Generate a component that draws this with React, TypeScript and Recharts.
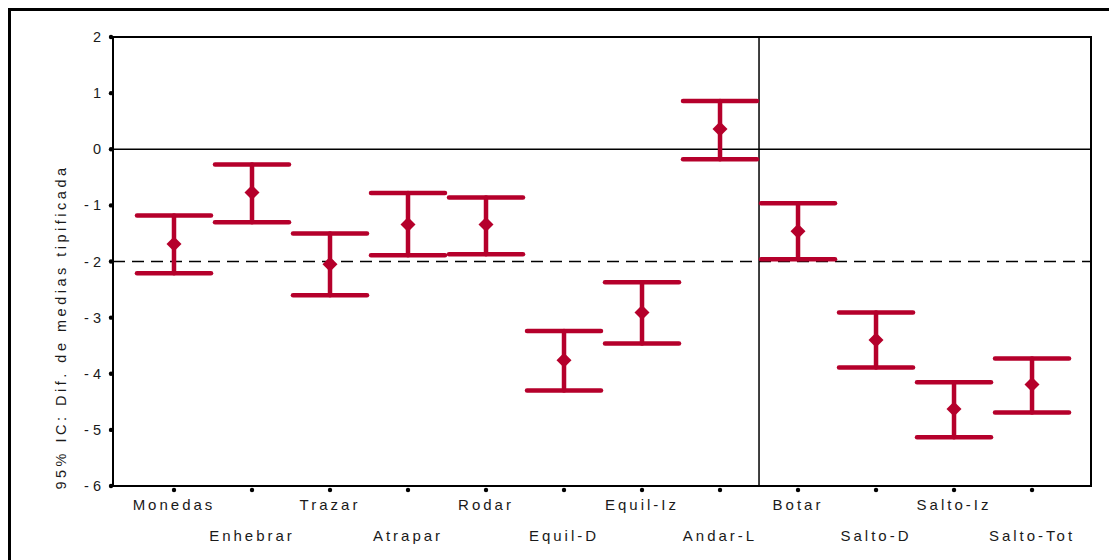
import React from 'react';
import {
  ComposedChart,
  Scatter,
  ErrorBar,
  XAxis,
  YAxis,
  ReferenceLine,
  ReferenceArea,
} from 'recharts';

const categories = [
  'Monedas', 'Enhebrar', 'Trazar', 'Atrapar', 'Rodar', 'Equil-D',
  'Equil-Iz', 'Andar-L', 'Botar', 'Salto-D', 'Salto-Iz', 'Salto-Tot',
];
const means = [-1.69, -0.77, -2.05, -1.34, -1.34, -3.76, -2.91, 0.36, -1.46, -3.4, -4.63, -4.19];
const lowers = [-2.21, -1.3, -2.6, -1.89, -1.87, -4.3, -3.46, -0.18, -1.96, -3.89, -5.13, -4.69];
const uppers = [-1.18, -0.27, -1.5, -0.78, -0.86, -3.24, -2.37, 0.86, -0.96, -2.91, -4.15, -3.73];
const yTicks = [-6, -5, -4, -3, -2, -1, 0, 1, 2];

const RED = '#b5002b';
const FONT = '"Liberation Sans", Arial, sans-serif';

const data = categories.map((name, i) => ({
  pos: i + 1,
  name,
  mean: means[i],
  ci: [means[i] - lowers[i], uppers[i] - means[i]],
}));
const xTicks = data.map((d) => d.pos);

const Diamond = (props: any) => {
  const { cx, cy } = props;
  const r = 7.5;
  return (
    <polygon
      points={`${cx},${cy - r} ${cx + r},${cy} ${cx},${cy + r} ${cx - r},${cy}`}
      fill={RED}
    />
  );
};

const XTick = (props: any) => {
  const { x, y, payload } = props;
  const pos = payload.value as number;
  const label = categories[pos - 1];
  const lower = pos % 2 === 0;
  return (
    <g>
      <circle cx={x} cy={y + 4} r={2.2} fill="#000" />
      <text
        x={x}
        y={lower ? y + 55 : y + 24}
        textAnchor="middle"
        fontFamily={FONT}
        fontSize={15}
        letterSpacing={3}
        fill="#1a1a1a"
      >
        {label}
      </text>
    </g>
  );
};

const YTick = (props: any) => {
  const { x, y, payload } = props;
  return (
    <g>
      <circle cx={x - 2} cy={y} r={2.2} fill="#000" />
      <text
        x={x - 8}
        y={y + 5}
        textAnchor="end"
        fontFamily={FONT}
        fontSize={14.5}
        letterSpacing={4}
        fill="#1a1a1a"
      >
        {payload.value}
      </text>
    </g>
  );
};

const YLabel = (props: any) => {
  const { viewBox } = props;
  const cx = viewBox.x + 61;
  const cy = 327;
  return (
    <text
      x={cx}
      y={cy}
      transform={`rotate(-90, ${cx}, ${cy})`}
      textAnchor="middle"
      dominantBaseline="central"
      fontFamily={FONT}
      fontSize={14.5}
      letterSpacing={3.5}
      fill="#1a1a1a"
    >
      95% IC: Dif. de medias tipificada
    </text>
  );
};

const App: React.FC = () => {
  return (
    <div style={{ position: 'absolute', left: 0, top: 0, width: 1109, height: 560, background: '#fff' }}>
      <div
        style={{
          position: 'absolute',
          left: 8,
          top: 8,
          width: 1101,
          height: 552,
          borderLeft: '3px solid #000',
          borderTop: '3px solid #000',
          boxSizing: 'border-box',
        }}
      />
      <div style={{ position: 'absolute', left: 0, top: 0 }}>
        <ComposedChart
          width={1109}
          height={560}
          data={data}
          margin={{ top: 37, right: 18, bottom: 0, left: 0 }}
        >
          <XAxis
            dataKey="pos"
            type="number"
            domain={[0.218, 12.756]}
            allowDataOverflow
            ticks={xTicks}
            interval={0}
            height={74}
            tickSize={0}
            tickMargin={0}
            tickLine={false}
            axisLine={{ stroke: '#000', strokeWidth: 2 }}
            tick={<XTick />}
          />
          <YAxis
            type="number"
            domain={[-6, 2]}
            allowDataOverflow
            ticks={yTicks}
            interval={0}
            width={113}
            tickSize={0}
            tickMargin={0}
            tickLine={false}
            axisLine={{ stroke: '#000', strokeWidth: 2 }}
            tick={<YTick />}
            label={<YLabel />}
          />
          <ReferenceArea
            x1={0.218}
            x2={12.756}
            y1={-6}
            y2={2}
            fill="none"
            fillOpacity={0}
            stroke="#000"
            strokeWidth={2}
          />
          <ReferenceLine y={0} stroke="#000" strokeWidth={1.5} />
          <ReferenceLine y={-2} stroke="#000" strokeWidth={1.5} strokeDasharray="12 7" />
          <ReferenceLine x={8.5} stroke="#000" strokeWidth={1.5} />
          <Scatter dataKey="mean" shape={<Diamond />} isAnimationActive={false}>
            <ErrorBar
              dataKey="ci"
              direction="y"
              width={37}
              stroke={RED}
              strokeWidth={4.5}
              strokeLinecap="round"
              isAnimationActive={false}
            />
          </Scatter>
        </ComposedChart>
      </div>
    </div>
  );
};

export default App;
